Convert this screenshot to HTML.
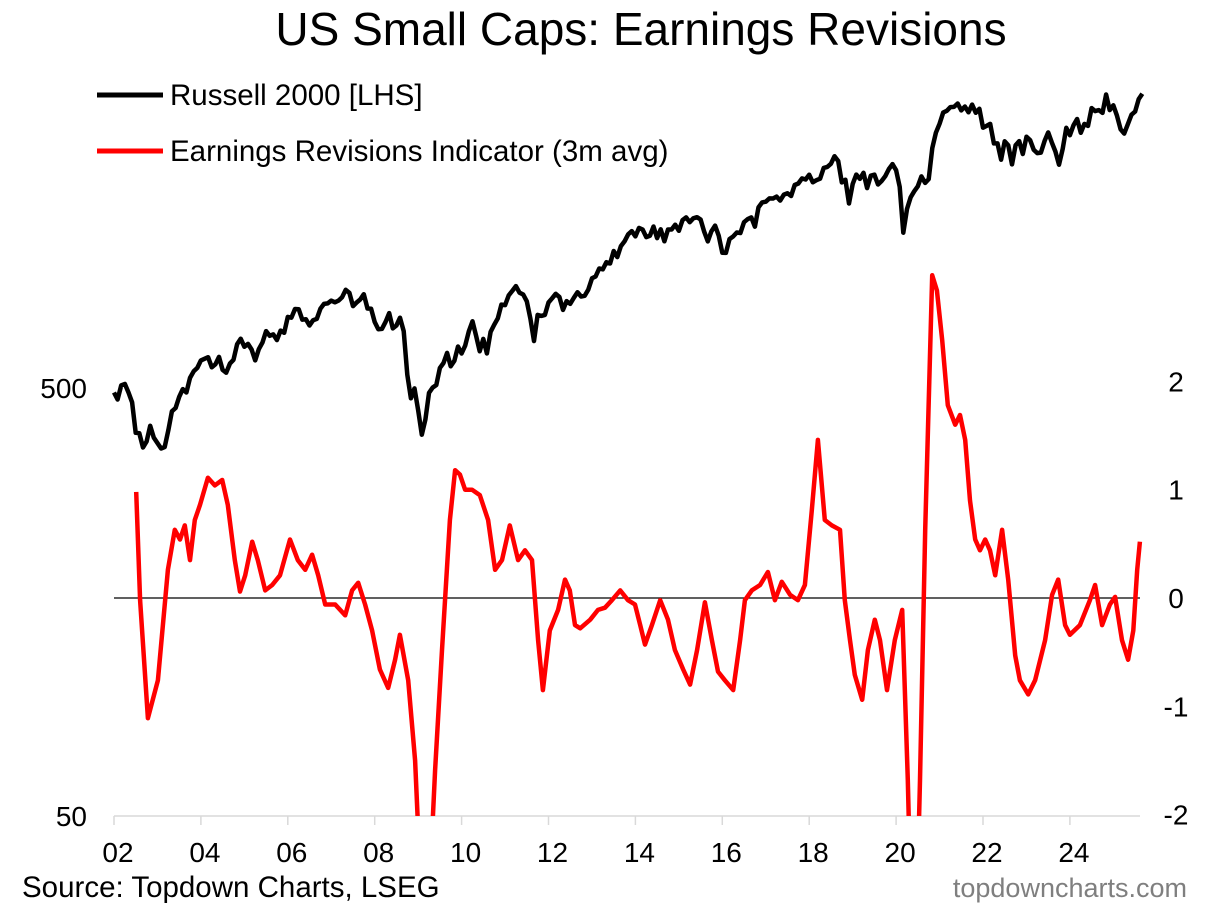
<!DOCTYPE html>
<html><head><meta charset="utf-8"><style>
html,body{margin:0;padding:0;background:#fff;}
svg{display:block;font-family:"Liberation Sans",Arial,sans-serif;}
</style></head><body>
<svg id="chart" width="1205" height="907" viewBox="0 0 1205 907">
<defs><clipPath id="plotClip"><rect x="100" y="60" width="1045" height="756"/></clipPath></defs>
<text x="641" y="45" text-anchor="middle" font-size="46" fill="#000">US Small Caps: Earnings Revisions</text>
<g>
<line x1="97" y1="95" x2="163" y2="95" stroke="#000" stroke-width="5"/>
<text x="170" y="105" font-size="29.5">Russell 2000 [LHS]</text>
<line x1="97" y1="151" x2="163" y2="151" stroke="#ff0000" stroke-width="5"/>
<text x="170" y="161" font-size="29.5">Earnings Revisions Indicator (3m avg)</text>
</g>
<g id="axes"></g>
<g id="series" clip-path="url(#plotClip)"></g>
<text x="22" y="897" font-size="29.5">Source: Topdown Charts, LSEG</text>
<text x="1187" y="897" text-anchor="end" font-size="27" fill="#7f7f7f">topdowncharts.com</text>
</svg>
<script>
const xTickYears = [2002,2004,2006,2008,2010,2012,2014,2016,2018,2020,2022,2024];
const xTickLabels = ["02","04","06","08","10","12","14","16","18","20","22","24"];
const leftTicks = [500,50];
const rightTicks = [2,1,0,-1,-2];
const rutStartYear = 2002;
const rutMonthly = [
488,470,507,511,488,463,393,392,363,375,408,383,
372,361,364,398,441,449,477,497,488,528,547,557,
580,585,590,559,568,591,551,543,570,582,633,652,
624,634,615,580,616,639,679,662,667,647,681,673,
733,730,765,764,722,724,700,720,725,766,786,788,
800,793,800,815,848,834,777,792,805,828,767,766,
713,686,687,714,748,689,700,730,679,537,473,499,
443,389,422,487,501,508,557,572,604,562,579,625,
602,628,678,716,662,609,651,602,676,703,727,783,
781,823,843,865,835,827,797,726,644,741,737,741,
792,810,830,816,761,798,786,812,837,818,821,849,
902,911,951,947,984,977,1045,1011,1073,1100,1143,1163,
1130,1183,1173,1126,1134,1192,1120,1174,1101,1173,1173,1204,
1165,1233,1252,1220,1246,1253,1238,1159,1100,1162,1198,1135,
1035,1034,1114,1130,1154,1151,1220,1240,1252,1191,1322,1357,
1362,1387,1386,1400,1370,1415,1425,1405,1490,1502,1544,1535,
1575,1512,1529,1542,1634,1643,1670,1740,1696,1511,1533,1349,
1499,1576,1540,1591,1466,1567,1575,1494,1523,1562,1624,1668,
1614,1476,1153,1310,1394,1441,1480,1561,1507,1538,1819,1975,
2073,2201,2221,2266,2269,2311,2226,2273,2204,2297,2198,2245,
2028,2048,2070,1864,1864,1708,1885,1844,1665,1846,1887,1761,
1932,1897,1802,1769,1774,1889,1978,1874,1785,1662,1810,2027,
1948,2055,2125,1974,2070,2048,2254,2218,2230,2196,2425,2230,
2288,2163,2011,1965,2066,2175,2212,2366,2436];
const revDates = [2002.51,2002.60,2002.78,2003.01,2003.24,2003.40,2003.52,2003.63,2003.75,2003.86,2003.98,2004.16,2004.32,2004.49,2004.62,2004.78,2004.90,2005.02,2005.18,2005.31,2005.48,2005.64,2005.82,2006.05,2006.23,2006.40,2006.56,2006.70,2006.86,2007.09,2007.32,2007.48,2007.62,2007.78,2007.94,2008.12,2008.31,2008.47,2008.58,2008.77,2008.93,2009.04,2009.27,2009.39,2009.55,2009.73,2009.85,2009.96,2010.08,2010.24,2010.42,2010.61,2010.77,2010.93,2011.11,2011.30,2011.46,2011.62,2011.76,2011.87,2012.03,2012.22,2012.38,2012.49,2012.61,2012.73,2012.96,2013.14,2013.30,2013.46,2013.65,2013.83,2013.99,2014.11,2014.22,2014.38,2014.57,2014.75,2014.91,2015.10,2015.26,2015.42,2015.60,2015.76,2015.90,2016.06,2016.25,2016.41,2016.52,2016.68,2016.87,2017.05,2017.21,2017.37,2017.56,2017.74,2017.90,2018.06,2018.20,2018.36,2018.52,2018.71,2018.82,2018.94,2019.05,2019.22,2019.35,2019.51,2019.63,2019.79,2019.97,2020.14,2020.27,2020.32,2020.50,2020.55,2020.67,2020.83,2020.94,2021.06,2021.19,2021.36,2021.47,2021.59,2021.70,2021.82,2021.93,2022.05,2022.16,2022.28,2022.44,2022.58,2022.74,2022.85,2023.04,2023.20,2023.43,2023.59,2023.73,2023.89,2024.00,2024.23,2024.46,2024.58,2024.74,2024.92,2025.04,2025.20,2025.34,2025.46,2025.55,2025.61];
const revValues = [0.98,-0.02,-1.11,-0.76,0.26,0.63,0.54,0.67,0.35,0.72,0.86,1.11,1.04,1.09,0.86,0.35,0.06,0.21,0.52,0.35,0.07,0.12,0.21,0.54,0.35,0.26,0.40,0.21,-0.06,-0.06,-0.16,0.07,0.14,-0.06,-0.30,-0.66,-0.83,-0.57,-0.34,-0.76,-1.50,-2.5,-2.6,-1.59,-0.48,0.72,1.18,1.14,1.00,1.00,0.95,0.72,0.26,0.35,0.67,0.35,0.44,0.35,-0.39,-0.85,-0.30,-0.11,0.17,0.07,-0.25,-0.28,-0.20,-0.11,-0.09,-0.02,0.07,-0.02,-0.06,-0.25,-0.43,-0.25,-0.02,-0.20,-0.48,-0.66,-0.80,-0.48,-0.04,-0.39,-0.68,-0.76,-0.85,-0.39,-0.02,0.07,0.12,0.24,-0.02,0.15,0.03,-0.02,0.12,0.81,1.46,0.72,0.67,0.63,-0.02,-0.39,-0.71,-0.94,-0.48,-0.20,-0.39,-0.85,-0.39,-0.11,-1.68,-2.5,-2.5,-1.68,0.63,2.98,2.84,2.38,1.78,1.60,1.69,1.46,0.90,0.54,0.44,0.54,0.44,0.21,0.63,0.17,-0.53,-0.76,-0.89,-0.76,-0.39,0.03,0.17,-0.25,-0.34,-0.25,-0.02,0.12,-0.25,-0.06,0.01,-0.39,-0.57,-0.30,0.26,0.52];

const NS='http://www.w3.org/2000/svg';
function xS(t){return 114+(t-2002)*43.45;}
function yL(v){return 388-428*Math.log10(v/500);}
function yR(v){return 598-108.3*v;}
function mk(tag,attrs,parent){const e=document.createElementNS(NS,tag);for(const k in attrs)e.setAttribute(k,attrs[k]);parent.appendChild(e);return e;}
const axes=document.getElementById('axes'), series=document.getElementById('series');

const xAxis=mk('line',{x1:114,y1:816,x2:1140,y2:816,stroke:'#d9d9d9','stroke-width':1.5},axes);


xTickYears.forEach((yr,i)=>{
  const x=xS(yr);
  const tk=mk('line',{x1:x,y1:816,x2:x,y2:825,stroke:'#d9d9d9','stroke-width':1.5},axes);
  
  
  const lb=mk('text',{x:x+4,y:862,'text-anchor':'middle','font-size':28},axes);
  lb.textContent=xTickLabels[i];
  
  
});
leftTicks.forEach(v=>{
  const lb=mk('text',{x:87,y:yL(v)+10,'text-anchor':'end','font-size':28},axes);
  lb.textContent=v;
  
  
});
rightTicks.forEach(v=>{
  const lb=mk('text',{x:1176,y:yR(v)+10,'text-anchor':'middle','font-size':28},axes);
  lb.textContent=v;
  
  
});
const zero=mk('line',{x1:114,y1:yR(0),x2:1140,y2:yR(0),stroke:'#000','stroke-width':1.2},axes);



let d='';
rutMonthly.forEach((v,i)=>{const t=rutStartYear+i/12;d+=(i?'L':'M')+xS(t).toFixed(1)+','+yL(v).toFixed(1);});
const rut=mk('path',{d:d,fill:'none',stroke:'#000','stroke-width':4.5,'stroke-linejoin':'round'},series);



let d2='';
revValues.forEach((v,i)=>{d2+=(i?'L':'M')+xS(revDates[i]).toFixed(1)+','+yR(v).toFixed(1);});
const rev=mk('path',{d:d2,fill:'none',stroke:'#ff0000','stroke-width':4.5,'stroke-linejoin':'round'},series);


</script>
</body></html>
